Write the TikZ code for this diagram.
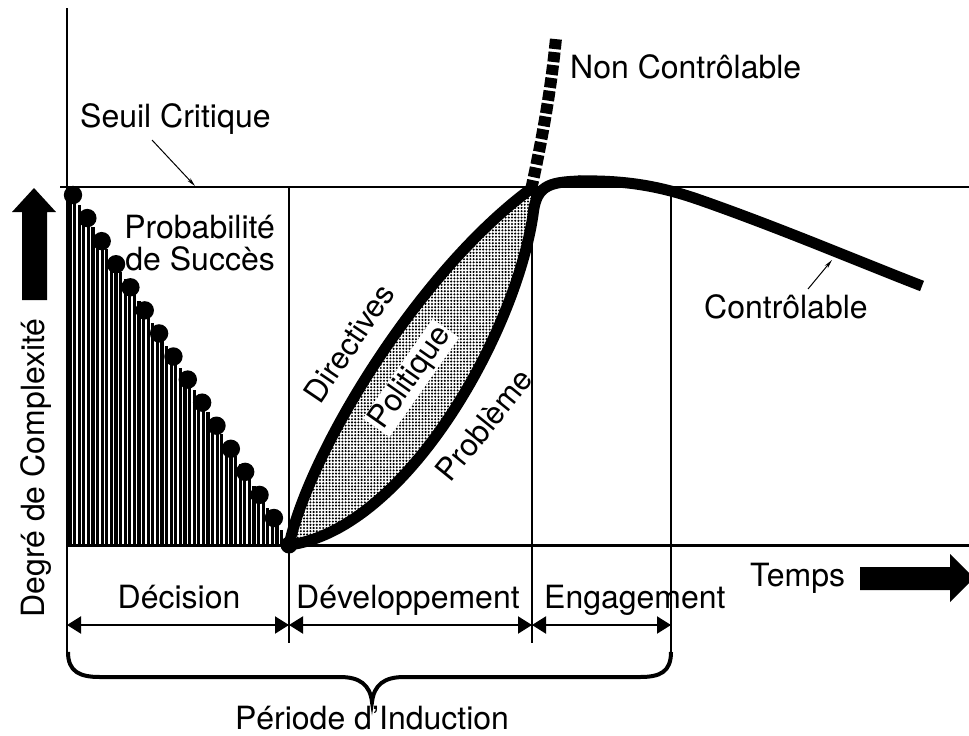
\documentclass[tikz,border=0pt]{standalone}
\usepackage{fontspec}
\setmainfont{TeX Gyre Heros}
\usetikzlibrary{arrows.meta,patterns}
\pgfdeclarepatternformonly{lensdots}{\pgfqpoint{-1.5pt}{-1.5pt}}{\pgfqpoint{1.5pt}{1.5pt}}{\pgfqpoint{3.2pt}{3.2pt}}{\pgfpathcircle{\pgfqpoint{0pt}{0pt}}{1.15pt}\pgfusepath{fill}}
\begin{document}
\begin{tikzpicture}[x=1pt,y=-1pt,
  lab/.style={font=\fontsize{32}{35}\selectfont, inner sep=0pt},
  rlab/.style={font=\fontsize{31}{34}\selectfont, inner sep=0pt},
  thinline/.style={line width=1.2pt},
  axisline/.style={line width=2.6pt},
  dimarrow/.style={line width=2pt,{Triangle[length=14pt,width=17pt]}-{Triangle[length=14pt,width=17pt]}},
  leader/.style={line width=1pt,-{Stealth[length=9pt,width=4pt]}},
  bigcurve/.style={line width=11pt,line cap=round},
]
\useasboundingbox (0,0) rectangle (969,736);
\fill[white] (0,0) rectangle (969,736);

% coordinates
\coordinate (O) at (67,545);
\coordinate (Top) at (67,8);
\coordinate (R) at (969,545);
\coordinate (SL) at (60,187);
\coordinate (SR) at (969,187);
\coordinate (A) at (289,545);
\coordinate (B) at (532,188);
\coordinate (C) at (533,215);

% stems (probability of success)
\foreach \x in {70,74.6,...,285}{
  \draw[line width=3.1pt] (\x,545) -- (\x,{195+1.608*(\x-73)});
}
\foreach \i in {0,...,14}{
  \fill ({73+14.35*\i},{195+23.07*\i}) circle (9.2);
}

% axes
\draw[axisline] (Top) -- (O);
\draw[line width=3pt] (O) -- (R);
\draw[line width=2pt] (SL) -- (SR);

% vertical phase lines
\draw[thinline] (67,545) -- (67,652);
\draw[thinline] (289,187) -- (289,643);
\draw[thinline] (532,187) -- (532,643);
\draw[thinline] (671,187) -- (671,654);

% lens
\fill[pattern=lensdots] (A) .. controls (310,450) and (420,270) .. (B)
   -- (C) .. controls (515,335) and (405,530) .. (A) -- cycle;
\draw[bigcurve] (A) .. controls (310,450) and (420,270) .. (B);
\draw[bigcurve] (A) .. controls (405,530) and (515,335) .. (C)
   .. controls (536,186) and (548,182) .. (580,181);
\draw[line width=11pt] (578,181) .. controls (625,180) and (660,186) .. (700,200)
   .. controls (780,228) and (860,262) .. (922,286);
\fill (A) circle (8.5);

% non controllable
\draw[line width=12pt,dash pattern=on 10pt off 3pt] (531,190) .. controls (542,140) and (551,90) .. (556,38);

% labels
\node[lab,anchor=base west] (seuil) at (80,127) {Seuil Critique};
\draw[leader] (152,140) -- (195,186);
\node[lab,anchor=base west] (nonc) at (570,78) {Non Contrôlable};
\node[lab,anchor=base west] (contr) at (704,318) {Contrôlable};
\draw[leader] (808,289) -- (832,260);
\node[lab,anchor=base east] (prob1) at (275,238) {Probabilité};
\node[lab,anchor=base east] (prob2) at (275,270) {de Succès};
\node[rlab,rotate=56] (dir) at (349,343) {Directives};
\node[rlab,rotate=55,fill=white,inner sep=1.5pt] (pol) at (411,378) {Politique};
\node[rlab,rotate=51] (pro) at (484,425) {Problème};
\node[lab,rotate=90,anchor=base] (deg) at (44,468) {Degré de Complexité};

% left arrow
\fill (22,300) -- (22,212) -- (12,212) -- (34,188) -- (56,212) -- (47,212) -- (47,300) -- cycle;

% time
\node[lab,anchor=base west] (temps) at (750,586) {Temps};
\fill (860,567) -- (950,567) -- (950,554) -- (974,578) -- (950,602) -- (950,590) -- (860,590) -- cycle;

% phases
\node[lab,anchor=base] (dec) at (179,608) {Décision};
\node[lab,anchor=base west] (dev) at (296,608) {Développement};
\node[lab,anchor=base west] (eng) at (544,608) {Engagement};
\coordinate (d0) at (67,625);
\coordinate (d1) at (289,625);
\coordinate (d2) at (532,625);
\coordinate (d3) at (671,625);
\draw[dimarrow] (d0) -- (d1);
\draw[dimarrow] (d1) -- (d2);
\draw[dimarrow] (d2) -- (d3);

% brace
\draw[line width=4pt] (68,652) .. controls (68,672) and (80,677) .. (100,677) -- (340,677)
  .. controls (360,677) and (370,685) .. (372,702)
  .. controls (374,685) and (384,677) .. (404,677) -- (640,677)
  .. controls (660,677) and (671,672) .. (671,652);
\node[lab,anchor=base] (periode) at (372,729) {Période d’Induction};
\end{tikzpicture}
\end{document}
